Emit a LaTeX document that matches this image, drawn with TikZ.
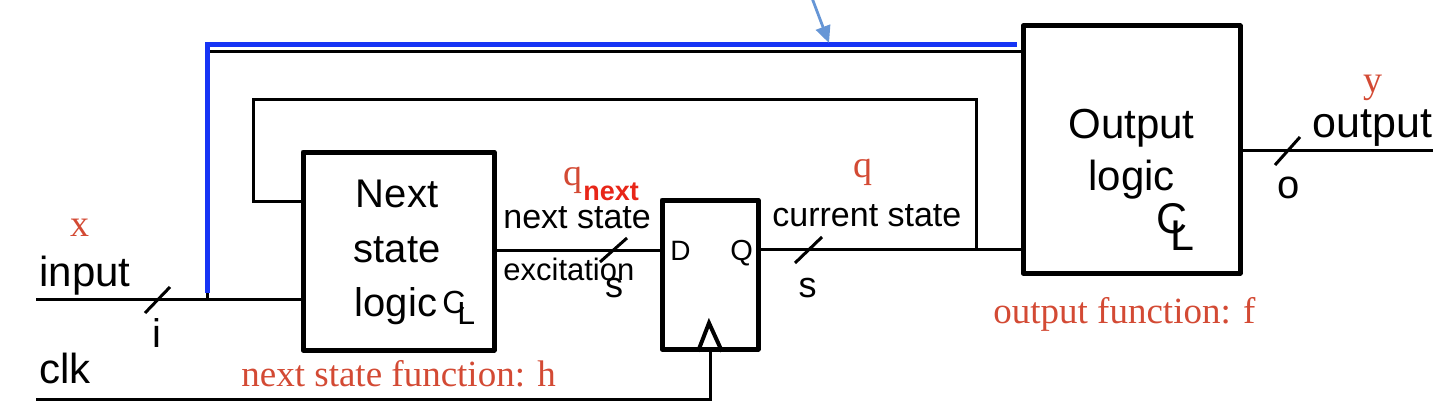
\documentclass[tikz,border=0pt]{standalone}
\usepackage{fontspec}
\setmainfont{Liberation Serif}
\setsansfont{Liberation Sans}
\usetikzlibrary{arrows.meta}

\definecolor{fnred}{RGB}{211,74,52}
\definecolor{subred}{RGB}{232,38,24}
\definecolor{busblue}{RGB}{22,52,245}
\definecolor{ptrblue}{RGB}{102,150,214}

\newcommand{\fsz}[1]{\fontsize{#1}{#1}\selectfont}

\tikzset{
	wire/.style={line width=1.5pt},
	blok/.style={draw, line width=2.5pt, line join=round, inner sep=0pt},
	txt/.style={font=\sffamily, inner sep=0pt, anchor=base west},
	fn/.style={text=fnred, inner sep=0pt, anchor=base west},
	hilite/.style={draw=busblue, line width=2.5pt},
	ptr/.style={draw=ptrblue, line width=1.4pt, -{Triangle[length=8.5pt,width=7.5pt]}},
}

\begin{document}
\begin{tikzpicture}[x=0.5pt, y=-0.5pt]
	\useasboundingbox (0,0) rectangle (1444,417);
	\begin{scope}
		\node[blok, minimum width=95.5pt, minimum height=99pt] (nsl) at (398.5,251) {}; % next state logic
		\node[blok, minimum width=48pt, minimum height=74.5pt] (dff) at (710,274.5) {}; % flip flop
		\node[blok, minimum width=108.5pt, minimum height=123.5pt] (outl) at (1131.5,149.5) {}; % output logic

		\coordinate (in) at (36,299);
		\coordinate (clkin) at (36,399);
		\coordinate (out) at (1433,150);
		\coordinate (split) at (207,299); % tap on input
		\coordinate (top) at (207,51.5);
		\coordinate (cs) at (976,249); % tap on current state
		\coordinate (loop) at (253,100);
		\coordinate (nsfb) at ([yshift=25pt]nsl.west);
		\coordinate (dpin) at (662,250);
		\coordinate (qpin) at (758,249);
		\coordinate (clk) at (709,323);

		\draw[wire] (in) -- (in -| nsl.west); % input
		\draw[wire] (split) -- (top) -- (top -| outl.west); % input to output logic
		\draw[wire] (cs) |- (loop) |- (nsfb); % state back
		\draw[wire] (nsl.east |- dpin) -- (dpin);
		\draw[wire] (qpin) -- (qpin -| outl.west);
		\draw[wire] (outl.east |- out) -- (out);
		\draw[wire] (clkin) -| (dff.south); % clock
		\draw[line width=2pt, line join=miter] ([xshift=-6pt]dff.south) -- (clk) -- ([xshift=6pt]dff.south);

		% bus ticks
		\draw[wire] (157,300) +(-12,13) -- +(13,-13);
		\draw[wire] (614,250) +(-14,12) -- +(13,-12);
		\draw[wire] (808,250) +(-13,13) -- +(14,-13);
		\draw[wire] (1287,151) +(-12,14) -- +(13,-14);

		% blue path and pointer
		\coordinate (bbot) at (207.5,293);
		\coordinate (btop) at (207.5,44.5);
		\coordinate (bend) at (1017,44.5);
		\draw[hilite] (bbot) -- (btop) -- (bend);
		\coordinate (ptr0) at (812,-2);
		\coordinate (ptr1) at (829,43);
		\draw[ptr] (ptr0) -- (ptr1);

		% texts
		\node[txt, font=\sffamily\fsz{21}] (tin) at (39,286) {input};
		\node[txt, font=\sffamily\fsz{21}] (tclk) at (39,383) {clk};
		\node[txt, font=\sffamily\fsz{20}, anchor=base] (ti) at (157,347) {i};
		\node[txt, font=\sffamily\fsz{20}, anchor=base] (tns1) at (397,207) {Next};
		\node[txt, font=\sffamily\fsz{20}, anchor=base] (tns2) at (397,262) {state};
		\node[txt, font=\sffamily\fsz{20}, anchor=base] (tns3) at (396,316) {logic};
		\node[txt, font=\sffamily\fsz{16}] (tc1) at (442,313) {C};
		\node[txt, font=\sffamily\fsz{16}] (tl1) at (457,324) {L};
		\node[txt, font=\sffamily\fsz{17}] (tnext) at (503,228) {next state};
		\node[txt, font=\sffamily\fsz{15.5}] (texc) at (503,280) {excitation};
		\node[txt, font=\sffamily\fsz{18}, anchor=base] (ts1) at (614,297) {s};
		\node[txt, font=\sffamily\fsz{14}] (td) at (670,260) {D};
		\node[txt, font=\sffamily\fsz{14.5}] (tq) at (730,260) {Q};
		\node[txt, font=\sffamily\fsz{17}] (tcur) at (772,226) {current state};
		\node[txt, font=\sffamily\fsz{18}, anchor=base] (ts2) at (807.5,297) {s};
		\node[txt, font=\sffamily\fsz{21}, anchor=base] (tout1) at (1131.5,138) {Output};
		\node[txt, font=\sffamily\fsz{21}, anchor=base] (tout2) at (1131.5,190) {logic};
		\node[txt, font=\sffamily\fsz{21.5}] (tc2) at (1156,233) {C};
		\node[txt, font=\sffamily\fsz{21.5}] (tl2) at (1170,250) {L};
		\node[txt, font=\sffamily\fsz{20}, anchor=base] (to) at (1288.5,198) {o};
		\node[txt, font=\sffamily\fsz{21.5}] (toutput) at (1312,137) {output};

		\node[fn, font=\fsz{19}] (fx) at (70,236) {x};
		\node[fn, font=\fsz{19}] (fqn) at (563,185) {q};
		\node[txt, text=subred, font=\sffamily\bfseries\fsz{13.5}] (fsub) at (583,200) {next};
		\node[fn, font=\fsz{19}] (fq) at (853,177) {q};
		\node[fn, font=\fsz{19}] (fy) at (1363,93) {y};
		\node[fn, font=\fsz{18.5}] (fh) at (241,386) {next state function: h};
		\node[fn, font=\fsz{18.5}] (ff) at (993,323) {output function: f};
	\end{scope}
\end{tikzpicture}
\end{document}
